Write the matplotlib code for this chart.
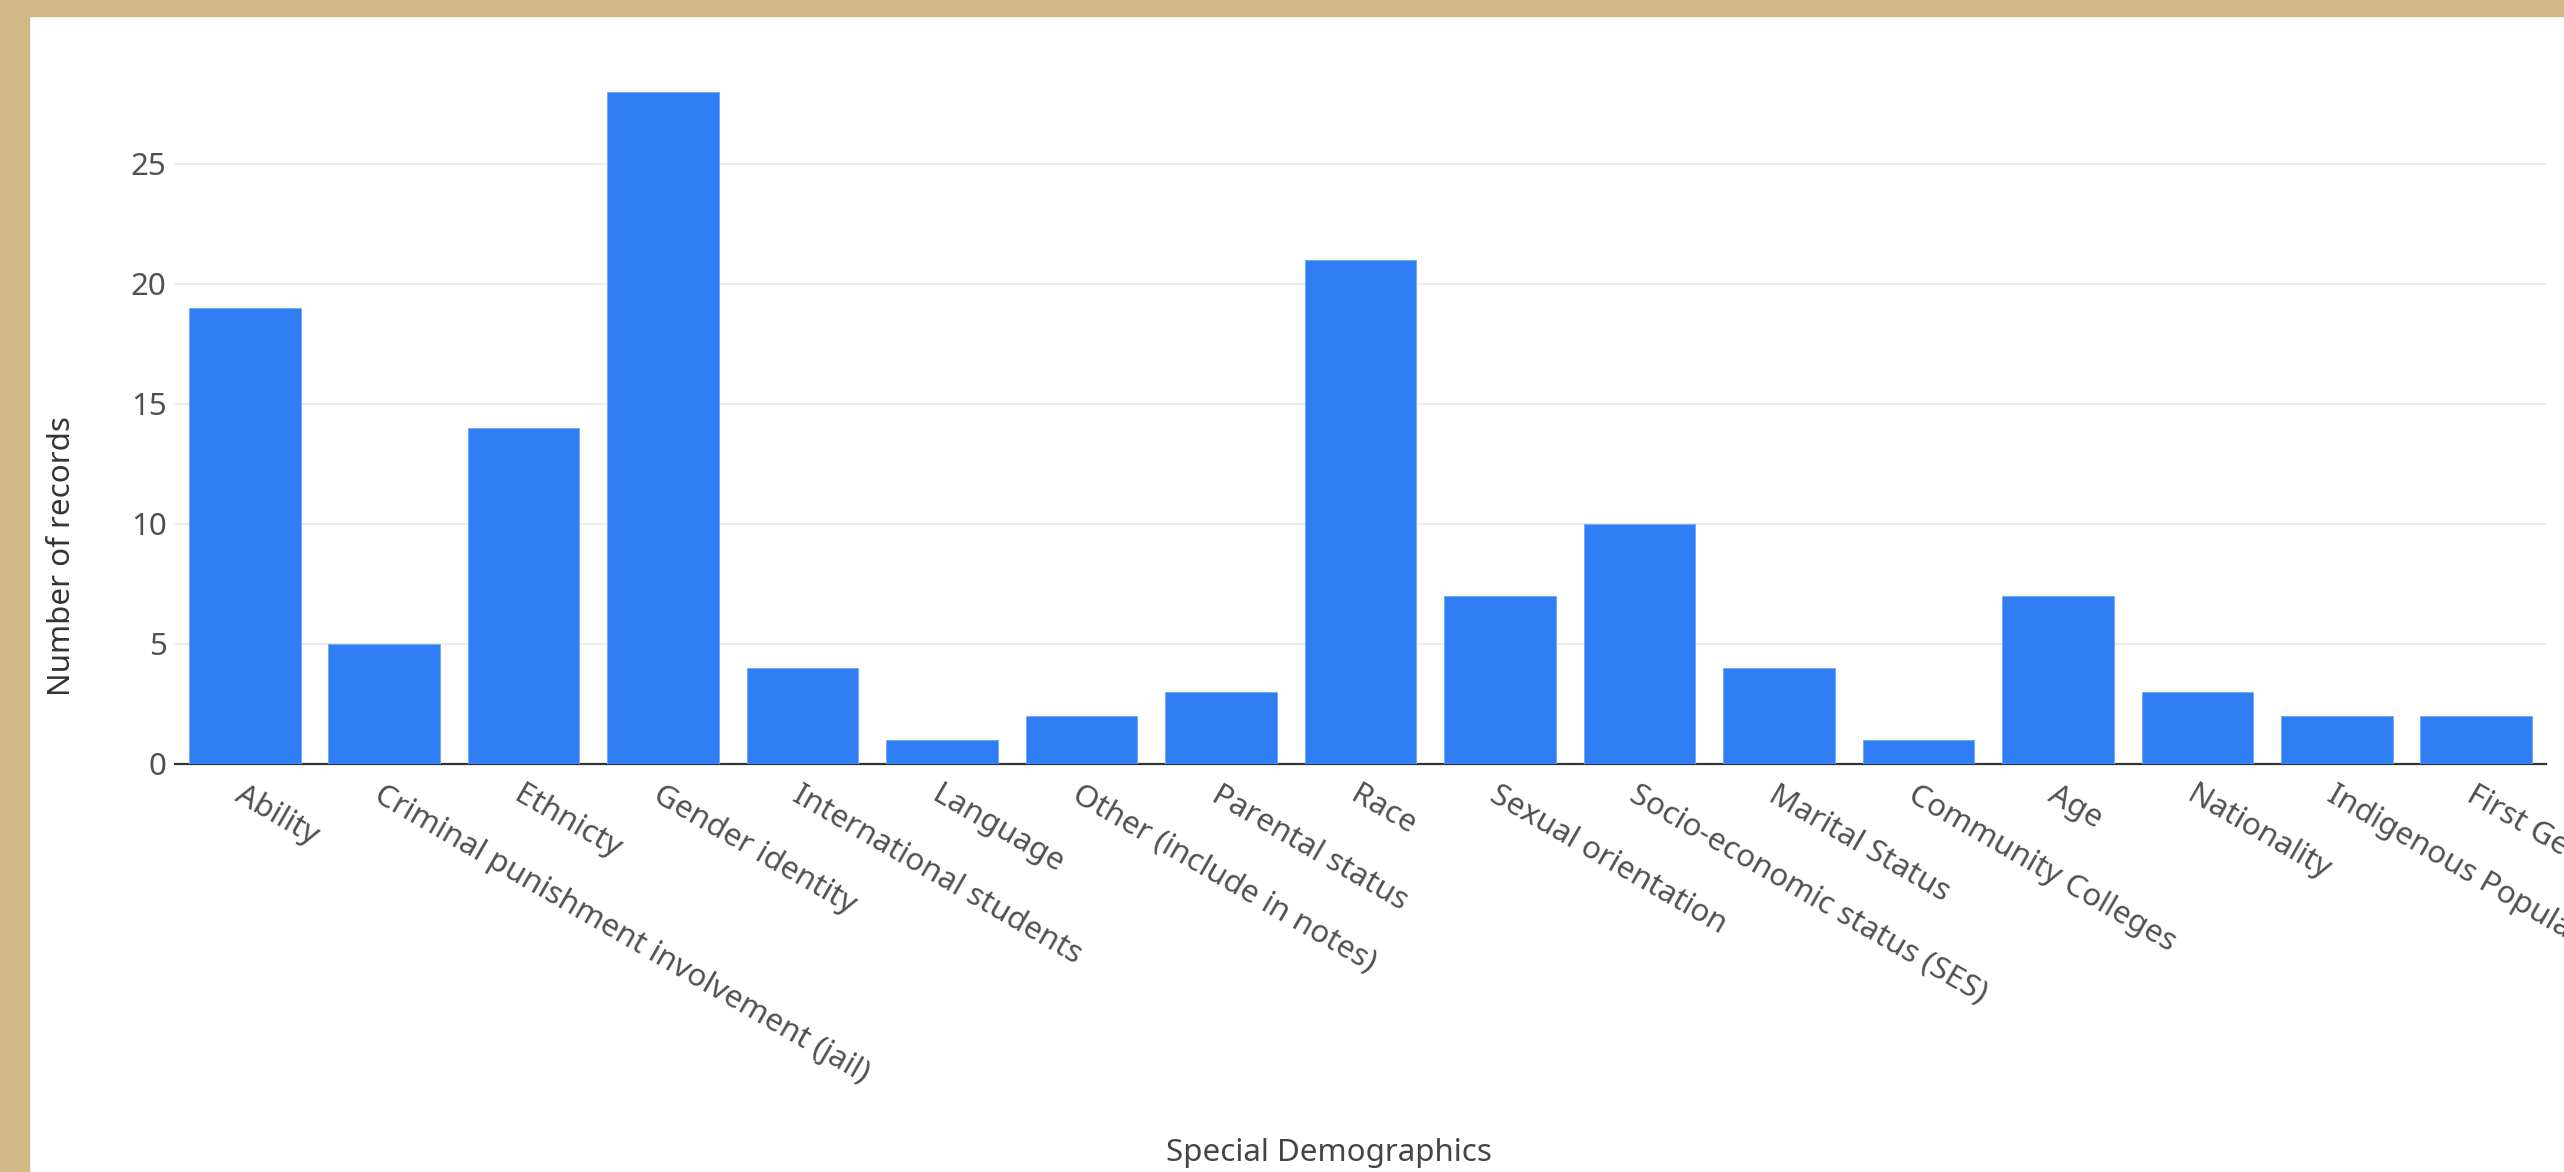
import matplotlib.pyplot as plt
from matplotlib.patches import Rectangle

# record counts per demographic category
categories = [
    "Ability", "Criminal punishment involvement (jail)", "Ethnicty",
    "Gender identity", "International students", "Language",
    "Other (include in notes)", "Parental status", "Race",
    "Sexual orientation", "Socio-economic status (SES)", "Marital Status",
    "Community Colleges", "Age", "Nationality", "Indigenous Populations",
    "First Generation",
]
counts = [19, 5, 14, 28, 4, 1, 2, 3, 21, 7, 10, 4, 1, 7, 3, 2, 2]
y_ticks = [0, 5, 10, 15, 20, 25]

W, H = 2564, 1172
BAR = "#2F7EF3"
TEXT = "#505050"
FS = 22.5

plt.rcParams['font.family'] = ['Noto Sans', 'DejaVu Sans']

fig = plt.figure(figsize=(W / 100, H / 100), dpi=100)
fig.patch.set_facecolor("white")

# tan frame along top and left edges
fig.patches.append(Rectangle((0, 0), 29 / W, 1, transform=fig.transFigure,
                             color="#CFB886", zorder=0))
fig.patches.append(Rectangle((0, 1 - 16 / H), 1, 16 / H, transform=fig.transFigure,
                             color="#CFB886", zorder=0))

left, right = 175 / W, 2546 / W
bottom, top = 1 - 763.5 / H, 1 - 60 / H
ax = fig.add_axes([left, bottom, right - left, top - bottom])

x = range(len(categories))
ax.bar(x, counts, width=0.8, color=BAR, edgecolor="#6FA6F7", linewidth=0.6, zorder=3)

ax.set_xlim(-0.5, len(categories) - 0.5)
ax.set_ylim(0, (763.5 - 60) / 24)
ax.set_yticks(y_ticks)
ax.set_yticklabels([str(v) for v in y_ticks], fontsize=FS, color=TEXT)
ax.tick_params(axis="y", length=0, pad=6)
ax.yaxis.grid(True, color="#E9E9E9", linewidth=1.3, zorder=0)
ax.set_axisbelow(True)

ax.set_xticks(list(x))
ax.set_xticklabels(categories, rotation=-30, ha="left", rotation_mode="anchor",
                   fontsize=FS, color=TEXT)
ax.tick_params(axis="x", length=0, pad=12)

for side in ["top", "right", "left"]:
    ax.spines[side].set_visible(False)
ax.spines["bottom"].set_color("#333333")
ax.spines["bottom"].set_linewidth(1.6)

fig.text(62 / W, 1 - 556 / H, "Number of records", rotation=90, ha="center",
         va="center", fontsize=FS, color="#333333")
fig.text(1329 / W, 1 - 1153 / H, "Special Demographics", ha="center",
         va="center", fontsize=FS, color="#444444")

fig.savefig("out.png", dpi=100)
